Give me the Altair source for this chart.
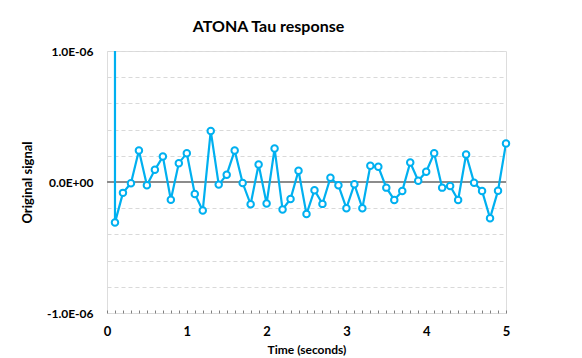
import altair as alt
import pandas as pd

# Data (time in seconds, signal values)
times = [round(0.1 * k, 1) for k in range(1, 51)]
signal_e6 = [-0.31, -0.083, -0.01, 0.24, -0.025, 0.093, 0.194, -0.136, 0.144, 0.22,
             -0.091, -0.217, 0.39, -0.02, 0.056, 0.24, -0.008, -0.17, 0.134, -0.164,
             0.255, -0.21, -0.129, 0.086, -0.245, -0.063, -0.167, 0.033, -0.025, -0.2,
             -0.018, -0.2, 0.124, 0.116, -0.043, -0.137, -0.068, 0.149, 0.01, 0.078,
             0.22, -0.043, -0.03, -0.137, 0.21, -0.005, -0.068, -0.276, -0.066, 0.294]
spike_time = 0.1
spike_value = 1.0e-6

y_ticks = [round(i * 0.2, 1) * 1e-6 for i in range(-5, 6)]
x_ticks = [round(0.1 * i, 1) for i in range(0, 51)]

BLUE = "#00B0F0"
FONT = "Lato"

rows = [{"t": spike_time, "v": spike_value, "o": 0, "marker": False}]
for i, (t, v) in enumerate(zip(times, signal_e6)):
    rows.append({"t": t, "v": v * 1e-6, "o": i + 1, "marker": True})
df = pd.DataFrame(rows)

x_enc = alt.X("t:Q", scale=alt.Scale(domain=[0, 5], nice=False),
              axis=alt.Axis(values=x_ticks, tickCount=100, title="Time (seconds)", grid=False,
                            domain=False, offset=-3, tickSize=3, tickColor="#808080",
                            labelOverlap=False,
                            labelExpr="abs(datum.value - round(datum.value)) < 0.001 ? format(datum.value, 'd') : ''",
                            labelFont=FONT, labelFontSize=13, labelFontWeight="bold",
                            labelColor="#000000", labelPadding=12, labelFlush=False,
                            titleFont=FONT, titleFontSize=12, titleFontWeight="bold",
                            titleColor="#000000", titlePadding=6))
y_enc = alt.Y("v:Q", scale=alt.Scale(domain=[-1e-6, 1e-6], nice=False, zero=False),
              axis=alt.Axis(values=y_ticks, tickCount=30, title="Original signal", grid=True,
                            gridDash=[4, 3], gridColor="#d9d9d9", gridWidth=1,
                            domain=False, ticks=False, labelOverlap=False,
                            labelExpr="abs(datum.value) < 1e-12 ? '0.0E+00' : (abs(abs(datum.value) - 1e-6) < 1e-12 ? (datum.value > 0 ? '1.0E-06' : '-1.0E-06') : '')",
                            labelFont=FONT, labelFontSize=12, labelFontWeight="bold",
                            labelColor="#000000", labelPadding=14, labelFlush=False,
                            titleFont=FONT, titleFontSize=13, titleFontWeight="bold",
                            titleColor="#000000", titlePadding=12))

base = alt.Chart(df)
zero = base.mark_rule(color="#8c8c8c", strokeWidth=1.5).encode(y=alt.datum(0))
line = base.mark_line(color=BLUE, strokeWidth=2.2, clip=True).encode(
    x=x_enc, y=y_enc, order="o:Q")
pts = base.transform_filter("datum.marker").mark_point(
    shape="circle", filled=True, fill="white", stroke=BLUE, strokeWidth=2, size=42, opacity=1
).encode(x="t:Q", y="v:Q")

chart = alt.layer(zero, line, pts).properties(
    width=399, height=262,
    title=alt.TitleParams("ATONA Tau response", font=FONT, fontSize=16, fontWeight="bold",
                          color="#000000", anchor="middle", dx=-38, offset=10),
    autosize=alt.AutoSizeParams(type="none"),
    padding={"left": 99, "top": 43, "right": 60, "bottom": 44},
).configure_view(stroke="#8c8c8c", strokeWidth=1.5).configure(background="white")

chart.save("out.html", embed_options={"renderer": "svg", "actions": False})
